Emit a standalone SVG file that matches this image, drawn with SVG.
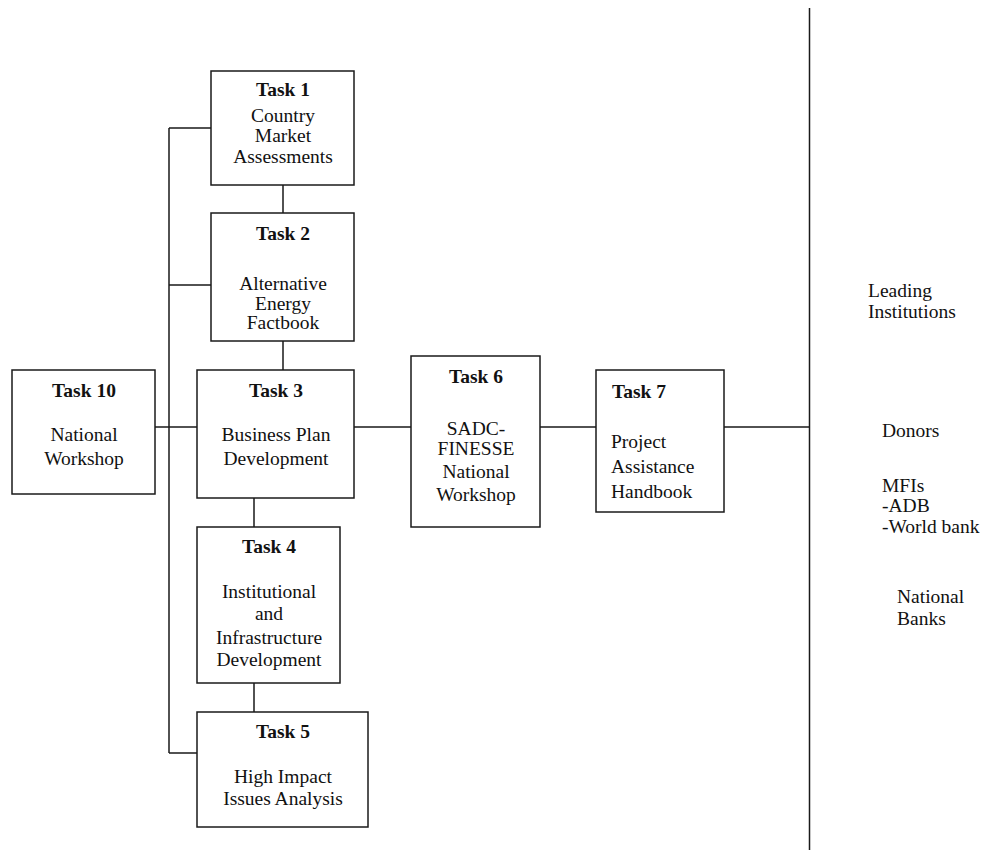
<svg xmlns="http://www.w3.org/2000/svg" width="996" height="850" viewBox="0 0 996 850">
<style>
.box{fill:#fff;stroke:#1a1a1a;stroke-width:1.5}
.ln{fill:none;stroke:#1a1a1a;stroke-width:1.5}
text{font-family:"Liberation Serif","Times New Roman",serif;font-size:19.5px;fill:#111}
.c{text-anchor:middle}
.b{font-weight:bold}
</style>
<rect width="996" height="850" fill="#fff"/>
<g id="connectors">
<path class="ln" d="M169,128 V753 M169,128 H211 M169,285 H211 M169,753 H197"/>
<path class="ln" d="M283,185 V213 M283,341 V370 M254,498 V527 M254,683 V712"/>
<path class="ln" d="M155,427 H197 M354,427 H411 M540,427 H596 M724,427 H810"/>
<path class="ln" d="M809.5,8 V850"/>
</g>
<g id="task1">
<rect class="box" x="211" y="71" width="143" height="114"/>
<text class="c b" x="283" y="96">Task 1</text>
<text class="c" x="283" y="122">Country</text>
<text class="c" x="283" y="142">Market</text>
<text class="c" x="283" y="163">Assessments</text>
</g>
<g id="task2">
<rect class="box" x="211" y="213" width="143" height="128"/>
<text class="c b" x="283" y="240">Task 2</text>
<text class="c" x="283" y="290">Alternative</text>
<text class="c" x="283" y="310">Energy</text>
<text class="c" x="283" y="329">Factbook</text>
</g>
<g id="task10">
<rect class="box" x="12" y="370" width="143" height="124"/>
<text class="c b" x="84" y="397">Task 10</text>
<text class="c" x="84" y="441">National</text>
<text class="c" x="84" y="465">Workshop</text>
</g>
<g id="task3">
<rect class="box" x="197" y="370" width="157" height="128"/>
<text class="c b" x="276" y="397">Task 3</text>
<text class="c" x="276" y="441">Business Plan</text>
<text class="c" x="276" y="465">Development</text>
</g>
<g id="task6">
<rect class="box" x="411" y="356" width="129" height="171"/>
<text class="c b" x="476" y="383">Task 6</text>
<text class="c" x="476" y="435">SADC-</text>
<text class="c" x="476" y="455">FINESSE</text>
<text class="c" x="476" y="478">National</text>
<text class="c" x="476" y="501">Workshop</text>
</g>
<g id="task7">
<rect class="box" x="596" y="370" width="128" height="142"/>
<text class="b" x="612" y="398">Task 7</text>
<text x="611" y="448">Project</text>
<text x="611" y="473">Assistance</text>
<text x="611" y="498">Handbook</text>
</g>
<g id="task4">
<rect class="box" x="197" y="527" width="143" height="156"/>
<text class="c b" x="269" y="553">Task 4</text>
<text class="c" x="269" y="598">Institutional</text>
<text class="c" x="269" y="620">and</text>
<text class="c" x="269" y="644">Infrastructure</text>
<text class="c" x="269" y="666">Development</text>
</g>
<g id="task5">
<rect class="box" x="197" y="712" width="171" height="115"/>
<text class="c b" x="283" y="738">Task 5</text>
<text class="c" x="283" y="783">High Impact</text>
<text class="c" x="283" y="805">Issues Analysis</text>
</g>
<g id="institutions">
<text x="868" y="297">Leading</text>
<text x="868" y="318">Institutions</text>
<text x="882" y="437">Donors</text>
<text x="882" y="492">MFIs</text>
<text x="882" y="512">-ADB</text>
<text x="882" y="533">-World bank</text>
<text x="897" y="603">National</text>
<text x="897" y="625">Banks</text>
</g>
</svg>
